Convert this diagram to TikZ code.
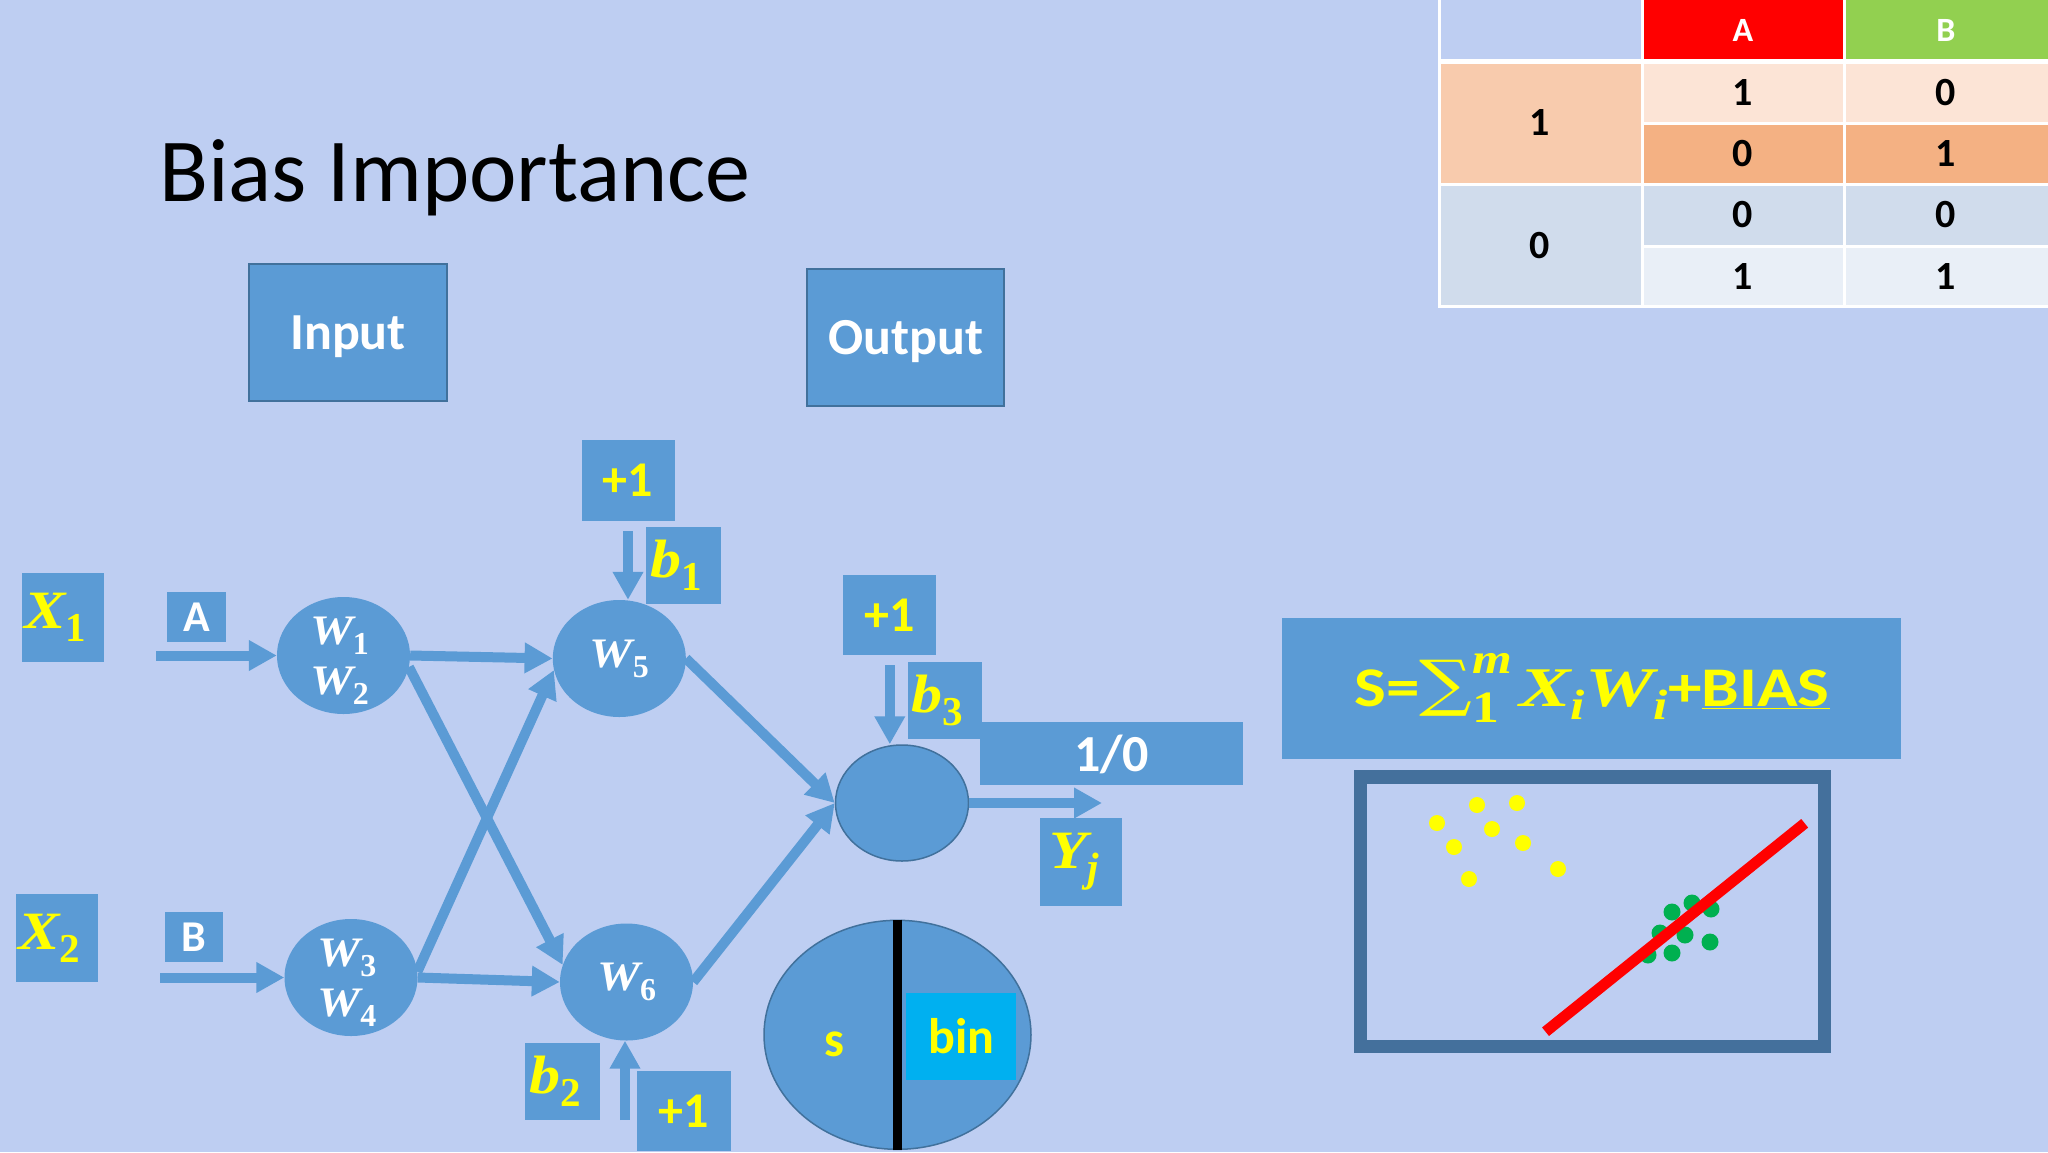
\documentclass[tikz,border=0pt]{standalone}
\usepackage{fontspec}
\setmainfont{Carlito}
\newfontfamily\mf{Liberation Serif}
\newfontfamily\sumf{DejaVu Serif}
\usetikzlibrary{arrows.meta,shapes.geometric}
\definecolor{bgc}{RGB}{190,206,242}
\definecolor{boxc}{RGB}{91,155,213}
\definecolor{edgec}{RGB}{65,113,156}
\definecolor{ylw}{RGB}{255,255,0}
\definecolor{cyanc}{RGB}{0,176,240}
\definecolor{hdrA}{RGB}{255,0,0}
\definecolor{hdrB}{RGB}{146,208,80}
\definecolor{pkL}{RGB}{248,203,173}
\definecolor{pkA}{RGB}{252,228,214}
\definecolor{pkB}{RGB}{244,177,131}
\definecolor{blA}{RGB}{208,220,236}
\definecolor{blB}{RGB}{233,239,247}
\definecolor{framec}{RGB}{68,112,156}
\definecolor{dotg}{RGB}{0,176,80}
\newcommand{\fsz}[1]{\fontsize{#1}{#1}\selectfont}
\newcommand{\mi}[1]{\scalebox{1.15}[1]{\mf\bfseries\itshape #1}}
\newcommand{\msb}[1]{\raisebox{-0.24em}{\scalebox{0.76}{\mf\bfseries #1}}}
\newcommand{\msbi}[1]{\raisebox{-0.24em}{\scalebox{0.76}{\mf\bfseries\itshape #1}}}
\newcommand{\padr}{\hspace*{15pt}}
\begin{document}
\begin{tikzpicture}[x=1pt,y=-1pt,
  bx/.style={fill=boxc, inner sep=0pt},
  ylwtxt/.style={text=ylw, font=\fsz{50}\bfseries},
  mathtxt/.style={text=ylw, font=\fsz{54}\bfseries},
  whtxt/.style={text=white, font=\fsz{52}\bfseries, text depth=0pt},
  wnode/.style={ellipse, fill=boxc, inner sep=0pt, minimum width=133pt, minimum height=117pt},
  wlabel/.style={text=white, font=\fontsize{42}{50}\selectfont, align=center, inner sep=0pt},
  arr/.style={draw=boxc, line width=10pt, -{Triangle[length=28pt,width=29pt]}},
  cell/.style={inner sep=0pt, font=\fsz{40}\bfseries},
  hcell/.style={inner sep=0pt, text=white, font=\fsz{34}\bfseries},
]
\useasboundingbox (0,0) rectangle (2048,1152);
\fill[bgc] (0,0) rectangle (2048,1152);

% title
\node[anchor=base west, inner sep=0pt, font=\fsz{90}] (title) at (159,201) {Bias Importance};

% table
\fill[hdrA] (1642,0) rectangle (1844,60);
\fill[hdrB] (1844,0) rectangle (2048,60);
\fill[pkL] (1438,62) rectangle (1642,184);
\fill[pkA] (1642,62) rectangle (2048,123);
\fill[pkB] (1642,123) rectangle (2048,184);
\fill[blA] (1438,184) rectangle (1642,307);
\fill[blA] (1642,184) rectangle (2048,246);
\fill[blB] (1642,246) rectangle (2048,307);
\draw[white, line width=3pt] (1439.5,0) -- (1439.5,306) -- (2048,306);
\draw[white, line width=5pt] (1438,61) -- (2048,61);
\draw[white, line width=3pt] (1642,0) -- (1642,307);
\draw[white, line width=3pt] (1844,0) -- (1844,307);
\draw[white, line width=3pt] (1642,123) -- (2048,123);
\draw[white, line width=3pt] (1438,184.5) -- (2048,184.5);
\draw[white, line width=3pt] (1642,246) -- (2048,246);
\node[hcell] (hA) at (1743,30) {A};
\node[hcell] (hB) at (1946,30) {B};
\node[cell] (r1) at (1540,123) {1};
\node[cell] (r0) at (1540,246) {0};
\node[cell] (c11) at (1743,93) {1};
\node[cell] (c12) at (1946,93) {0};
\node[cell] (c21) at (1743,154) {0};
\node[cell] (c22) at (1946,154) {1};
\node[cell] (c31) at (1743,215) {0};
\node[cell] (c32) at (1946,215) {0};
\node[cell] (c41) at (1743,277) {1};
\node[cell] (c42) at (1946,277) {1};

% input / output
\node[bx, draw=edgec, line width=2pt, minimum width=198pt, minimum height=137pt, whtxt] (inp) at (348,332.5) {Input};
\node[bx, draw=edgec, line width=2pt, minimum width=197pt, minimum height=137pt, whtxt] (outp) at (905.5,337.5) {Output};

% inputs
\node[bx, minimum width=82pt, minimum height=89pt, mathtxt] (x1) at (63,617.5) {\mi{X}\msb{1}\padr};
\node[bx, minimum width=82pt, minimum height=88pt, mathtxt] (x2) at (57,938) {\mi{X}\msb{2}\padr};
\node[bx, minimum width=59pt, minimum height=50pt, text=white, font=\fsz{44}\bfseries] (la) at (196.5,617) {A};
\node[bx, minimum width=58pt, minimum height=50pt, text=white, font=\fsz{44}\bfseries] (lb) at (194,937) {B};

% neurons
\node[wnode] (w12) at (343.5,655.5) {};
\node[wnode] (w34) at (351,977.5) {};
\node[wnode] (w5) at (619.3,658.5) {};
\node[wnode] (w6) at (626.5,982) {};
\node[wlabel] (w12t) at ([xshift=-4pt,yshift=-5pt]w12.center) {\mi{W}\msb{1}\\\mi{W}\msb{2}};
\node[wlabel] (w34t) at ([xshift=-4pt,yshift=-5pt]w34.center) {\mi{W}\msb{3}\\\mi{W}\msb{4}};
\node[wlabel] (w5t) at (w5) {\mi{W}\msb{5}};
\node[wlabel] (w6t) at (w6) {\mi{W}\msb{6}};

% bias boxes
\node[bx, minimum width=93pt, minimum height=81pt, ylwtxt] (p1) at (628,480.5) {+1};
\node[bx, minimum width=75pt, minimum height=77pt, mathtxt] (b1) at (683.5,565.5) {\mi{b}\msb{1}\padr};
\node[bx, minimum width=75pt, minimum height=77pt, mathtxt] (b2) at (562.5,1081.5) {\mi{b}\msb{2}\padr};
\node[bx, minimum width=94pt, minimum height=80pt, ylwtxt] (p2) at (684,1111) {+1};
\node[bx, minimum width=93pt, minimum height=80pt, ylwtxt] (p3) at (889.8,615.2) {+1};
\node[bx, minimum width=263pt, minimum height=63pt, whtxt] (out10) at (1111.7,753.3) {1/0};
\node[bx, minimum width=74pt, minimum height=77pt, mathtxt] (b3) at (944.9,700.3) {\mi{b}\msb{3}\padr};

% output neuron
\node[ellipse, fill=boxc, draw=edgec, line width=1.5pt, inner sep=0pt, minimum width=133pt, minimum height=116pt] (circ) at (902,803) {};
\node[bx, minimum width=82pt, minimum height=88pt, mathtxt] (yj) at (1081.4,861.5) {\mi{Y}\msbi{j}\padr};
\coordinate (yend) at (1102,803);

% s / bin
\node[ellipse, fill=boxc, draw=edgec, line width=1.5pt, inner sep=0pt, minimum width=267pt, minimum height=229pt] (sbin) at (897.5,1034.8) {};
\draw[black, line width=9pt] (sbin.north) -- (sbin.south);
\node[fill=cyanc, inner sep=0pt, minimum width=110pt, minimum height=87pt, text=ylw, font=\fsz{50}\bfseries] (bin) at (961.2,1036.5) {bin};
\node[inner sep=0pt, text=ylw, font=\fsz{50}\bfseries] (stxt) at (834.7,1044) {s};

% connectors
\coordinate (sa) at (156,655.5);
\coordinate (sb) at (160,977.5);
\draw[arr] (sa) -- (w12.west);
\draw[arr] (sb) -- (w34.west);
\draw[arr] (w12.east) -- (w5.west);
\draw[arr] (w12.-10) -- (w6.165);
\draw[arr] (w34.5) -- (w5.190);
\draw[arr] (w34.east) -- (w6.west);
\draw[arr] ([yshift=-10pt]p1.south) -- (p1.south |- w5.north);
\coordinate (cb) at (625,1120);
\draw[arr] (cb) -- (cb |- w6.south);
\draw[arr] ([yshift=-10pt]p3.south) -- (p3.south |- circ.north);
\draw[arr] (w5.east) -- (circ.west);
\draw[arr] (w6.east) -- (circ.west);
\draw[arr] (circ.east) -- (yend);

% formula
\node[bx, minimum width=619pt, minimum height=141pt] (fbox) at (1591,688.8) {};
\node[anchor=base, inner sep=0pt, text=ylw, font=\fsz{56}\bfseries] (ftxt) at (1592,706) {\scalebox{1.2}[1]{S={\sumf\mdseries\raisebox{0.02em}{\scalebox{1.1}{∑}}}\rlap{\raisebox{0.58em}{\scalebox{0.76}{\mf\bfseries\itshape m}}}\raisebox{-0.3em}{\scalebox{0.8}{\mf\bfseries 1}}\hspace{0.3em}\mi{X}\msbi{i}\mi{W}\msbi{i}+\underline{BIAS}}};

% plot
\draw[framec, line width=13.5pt] (1360.5,776.8) rectangle (1824.4,1046.6);
\foreach \p in {(1437,823),(1477,805),(1517,803),(1492,829),(1454,847),(1523,843),(1469,879),(1558,869)}
  \fill[ylw] \p circle[radius=8pt];
\foreach \p in {(1672,912),(1692,903),(1711,909),(1660,933),(1685,935),(1710,942),(1672,953),(1648,955)}
  \fill[dotg] \p circle[radius=8.5pt];
\draw[red, line width=11pt] (1545.5,1031.7) -- (1804.7,823.3);
\end{tikzpicture}
\end{document}
